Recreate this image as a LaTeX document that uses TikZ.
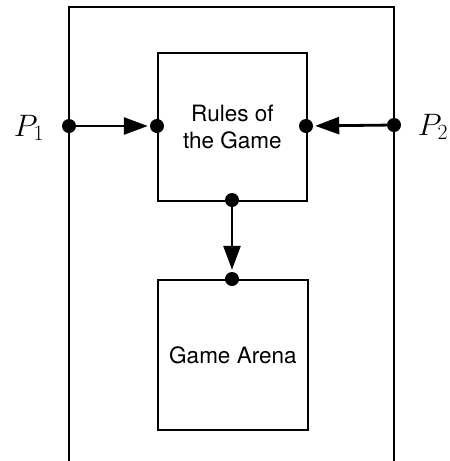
\RequirePackage{fix-cm}
\documentclass[tikz,border=0pt]{standalone}
\usepackage{fontspec}
\setsansfont{TeX Gyre Heros}
\usetikzlibrary{arrows.meta}
\begin{document}
\begin{tikzpicture}[x=1pt,y=-1pt,
  box/.style={draw,line width=1.8pt,inner sep=0pt,anchor=north west},
  port/.style={circle,fill=black,inner sep=0pt,minimum size=14pt},
  flow/.style={line width=2.8pt,-{Triangle[length=24pt,width=17pt]},shorten >=2pt},
  boxtext/.style={font=\sffamily\fontsize{22.5}{27}\selectfont,align=center},
  player/.style={font=\fontsize{31}{36}\selectfont}]
\useasboundingbox (0,0) rectangle (450,461);
% outer frame, open at the bottom
\draw[line width=1.8pt] (69,463) -- (69,7) -- (394,7) -- (394,463);
% the two boxes
\node[box,minimum width=149pt,minimum height=148pt] (rules) at (157,52) {};
\node[box,minimum width=150pt,minimum height=150pt] (arena) at (157,279) {};
\node[boxtext] at (rules.center) {Rules of\\the Game};
\node[boxtext] at (arena.center) {Game Arena};
% ports
\node[port] (p1) at (69,126) {};
\node[port] (rin) at (157,126) {};
\node[port] (p2) at (394,125) {};
\node[port] (rin2) at (306,126) {};
\node[port] (rout) at (232,200) {};
\node[port] (ain) at (232,279) {};
% flows
\draw[flow] (p1) -- (rin);
\draw[flow] (p2) -- (rin2);
\draw[flow] (rout) -- (ain);
% player labels
\node[player] (l1) at (29,128) {$P_1$};
\node[player] (l2) at (433,127) {$P_2$};
\end{tikzpicture}
\end{document}
